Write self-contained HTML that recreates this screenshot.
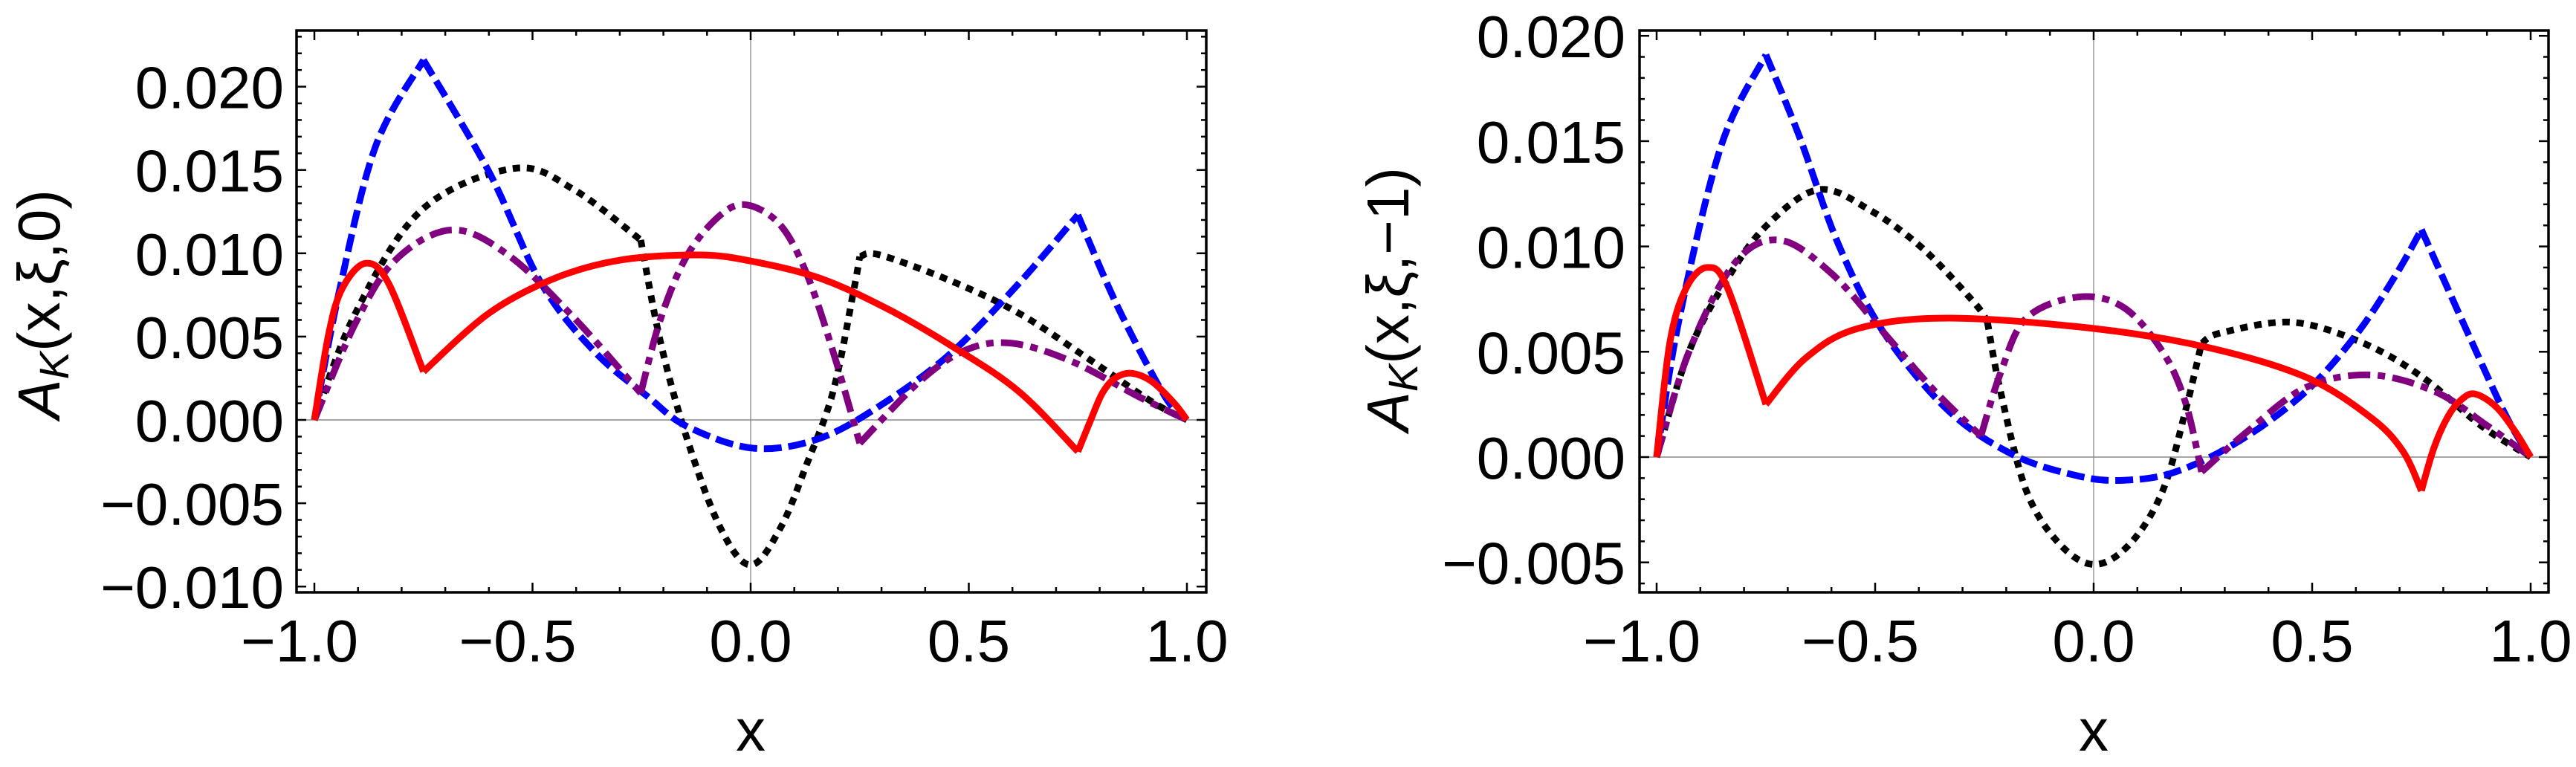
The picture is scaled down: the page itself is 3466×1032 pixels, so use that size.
<!DOCTYPE html>
<html><head><meta charset="utf-8"><style>
html,body{margin:0;padding:0;background:#fff;}
svg{display:block;}
text{font-family:"Liberation Sans",sans-serif;fill:#000;}
</style></head><body>
<svg id="s" width="3466" height="1032" viewBox="0 0 3466 1032" xmlns="http://www.w3.org/2000/svg">
<rect width="3466" height="1032" fill="#fff"/>
<g id="g"></g>
<text x="80" y="255" font-size="80" text-anchor="end" transform="rotate(-90 80 255)"><tspan font-style="italic">A</tspan><tspan font-size="56" font-style="italic" dy="12">K</tspan><tspan dy="-12">(x,ξ,0)</tspan></text>
<text x="1895" y="225" font-size="80" text-anchor="end" transform="rotate(-90 1895 225)"><tspan font-style="italic">A</tspan><tspan font-size="56" font-style="italic" dy="12">K</tspan><tspan dy="-12">(x,ξ,−1)</tspan></text>
<text x="1010" y="1010" font-size="80" text-anchor="middle">x</text>
<text x="2817" y="1010" font-size="80" text-anchor="middle">x</text>
</svg>
<script>
var NS="http://www.w3.org/2000/svg",G=document.getElementById('g');
function el(t,a,txt){var e=document.createElementNS(NS,t);for(var k in a)e.setAttribute(k,a[k]);if(txt!==undefined)e.textContent=txt;G.appendChild(e);return e;}
function cr(pts){
  var d="M"+pts[0][0].toFixed(1)+","+pts[0][1].toFixed(1);
  for(var i=0;i<pts.length-1;i++){
    var p0=pts[i>0?i-1:i],p1=pts[i],p2=pts[i+1],p3=pts[i+2<pts.length?i+2:i+1];
    var c1=[p1[0]+(p2[0]-p0[0])/6,p1[1]+(p2[1]-p0[1])/6],c2=[p2[0]-(p3[0]-p1[0])/6,p2[1]-(p3[1]-p1[1])/6];
    d+="C"+c1[0].toFixed(1)+","+c1[1].toFixed(1)+" "+c2[0].toFixed(1)+","+c2[1].toFixed(1)+" "+p2[0].toFixed(1)+","+p2[1].toFixed(1);
  }
  return d;
}
function plot(P){
  var X=function(x){return P.x0+(x+1)*P.sx;},Y=function(y){return P.y0-y*P.sy;};
  el('line',{x1:X(0),x2:X(0),y1:P.top,y2:P.bot,stroke:'#999','stroke-width':1.5});
  el('line',{x1:P.left,x2:P.right,y1:Y(0),y2:Y(0),stroke:'#888','stroke-width':1.5});
  var styles={k:{c:'#000',da:'10,9'},b:{c:'#0000ff',da:'24,9'},p:{c:'#800080',da:'30,10,10,10'},r:{c:'#ff0000',da:'none'}};
  ['k','b','p','r'].forEach(function(key){
    var segs=P.curves[key],d="";
    segs.forEach(function(seg){d+=cr(seg.map(function(q){return [X(q[0]),Y(q[1])];}));});
    el('path',{d:d,fill:'none',stroke:styles[key].c,'stroke-width':9,'stroke-dasharray':styles[key].da,'stroke-linejoin':'round'});
  });
  el('rect',{x:P.left,y:P.top,width:P.right-P.left,height:P.bot-P.top,fill:'none',stroke:'#000','stroke-width':3.5});
  for(var i=-10;i<=10;i++){var x=i/10,maj=(i%5===0),L=maj?13:7,px=X(x);
    el('line',{x1:px,x2:px,y1:P.bot,y2:P.bot-L,stroke:'#000','stroke-width':2.5});
    el('line',{x1:px,x2:px,y1:P.top,y2:P.top+L,stroke:'#000','stroke-width':2.5});
    if(maj){var s=x.toFixed(1);if(x<0)s="−"+(-x).toFixed(1);
      el('text',{x:px-(x<0?20:0),y:890,'font-size':80,'text-anchor':'middle'},s);}
  }
  for(var j=P.ymin;j<=P.ymax;j++){var y=j/1000,maj=(j%5===0),L=maj?13:7,py=Y(y);
    if(py<P.top+2||py>P.bot-2)continue;
    el('line',{x1:P.left,x2:P.left+L,y1:py,y2:py,stroke:'#000','stroke-width':2.5});
    el('line',{x1:P.right,x2:P.right-L,y1:py,y2:py,stroke:'#000','stroke-width':2.5});
    if(maj){var s=Math.abs(y).toFixed(3);if(j<0)s="−"+s;
      el('text',{x:P.lab,y:py+29,'font-size':80,'text-anchor':'end'},s);}
  }
}
plot({x0:423,sx:587,y0:565,sy:22420,left:399,right:1623,top:41,bot:797,lab:382,ymin:-10,ymax:23,
curves:{
 b:[[[-1,0],[-0.944,0.0076],[-0.86,0.0164],[-0.75,0.0216]],
    [[-0.75,0.0216],[-0.6,0.0149],[-0.48,0.0082],[-0.358,0.0041],[-0.236,0.0014],[-0.145,-0.0004],[0.007,-0.0017],[0.159,-0.0011],[0.311,0.0011],[0.463,0.0041],[0.615,0.0082],[0.75,0.0123]],
    [[0.75,0.0123],[0.843,0.0067],[0.95,0.0014],[1,0]]],
 k:[[[-1,0],[-0.906,0.0064],[-0.754,0.0126],[-0.541,0.0151],[-0.404,0.0138],[-0.252,0.0108]],
    [[-0.252,0.0108],[-0.206,0.0046],[-0.145,-0.0012],[-0.069,-0.0065],[0,-0.0087],[0.068,-0.0065],[0.128,-0.0027],[0.189,0.0017],[0.235,0.0076],[0.25,0.0098]],
    [[0.25,0.0098],[0.296,0.0099],[0.463,0.0083],[0.615,0.0064],[0.767,0.0038],[0.919,0.0011],[1,0]]],
 p:[[[-1,0],[-0.906,0.0058],[-0.814,0.0096],[-0.685,0.0114],[-0.556,0.0099],[-0.404,0.0061],[-0.252,0.0016]],
    [[-0.252,0.0016],[-0.206,0.0061],[-0.145,0.0099],[-0.069,0.0123],[-0.008,0.0129],[0.068,0.0117],[0.128,0.0088],[0.189,0.0041],[0.25,-0.0014]],
    [[0.25,-0.0014],[0.387,0.0023],[0.494,0.0042],[0.6,0.0046],[0.737,0.0035],[0.889,0.0014],[1,0]]],
 r:[[[-1,0],[-0.967,0.0052],[-0.936,0.0079],[-0.883,0.0094],[-0.83,0.0082],[-0.75,0.0029]],
    [[-0.75,0.0029],[-0.6,0.0064],[-0.449,0.0085],[-0.297,0.0096],[-0.115,0.0099],[0.007,0.0095],[0.159,0.0085],[0.311,0.0067],[0.463,0.0044],[0.615,0.0017],[0.75,-0.0019]],
    [[0.75,-0.0019],[0.778,-0.0001],[0.806,0.0016],[0.835,0.0025],[0.872,0.0028],[0.92,0.0023],[0.971,0.001],[1,0]]]
}});
plot({x0:2229,sx:588,y0:615,sy:28340,left:2206,right:3429,top:41,bot:797,lab:2187,ymin:-6,ymax:20,
curves:{
 b:[[[-1,0],[-0.948,0.0066],[-0.852,0.0148],[-0.75,0.0191]],
    [[-0.75,0.0191],[-0.673,0.0152],[-0.584,0.0101],[-0.48,0.0059],[-0.332,0.0022],[-0.183,0.0001],[-0.035,-0.0009],[0.069,-0.0011],[0.188,-0.0007],[0.336,0.0008],[0.485,0.0031],[0.604,0.0059],[0.693,0.0087],[0.75,0.0108]],
    [[0.75,0.0108],[0.856,0.0059],[0.945,0.0019],[1,0]]],
 k:[[[-1,0],[-0.926,0.005],[-0.837,0.0085],[-0.748,0.011],[-0.629,0.0127],[-0.51,0.0117],[-0.391,0.0099],[-0.272,0.0073],[-0.243,0.0064]],
    [[-0.243,0.0064],[-0.213,0.0031],[-0.154,-0.0016],[-0.079,-0.0041],[0.002,-0.0051],[0.084,-0.0041],[0.158,-0.0016],[0.21,0.0022],[0.247,0.0054]],
    [[0.247,0.0054],[0.292,0.0059],[0.455,0.0064],[0.618,0.0054],[0.752,0.0038],[0.886,0.0015],[1,0]]],
 p:[[[-1,0],[-0.926,0.005],[-0.822,0.0092],[-0.718,0.0103],[-0.599,0.0087],[-0.48,0.0059],[-0.362,0.0031],[-0.258,0.001]],
    [[-0.258,0.001],[-0.213,0.004],[-0.154,0.0066],[-0.035,0.0076],[0.069,0.0071],[0.158,0.005],[0.21,0.0026],[0.247,-0.0007]],
    [[0.247,-0.0007],[0.351,0.0012],[0.485,0.0033],[0.633,0.0039],[0.782,0.0031],[0.9,0.0015],[1,0]]],
 r:[[[-1,0],[-0.97,0.0054],[-0.933,0.008],[-0.884,0.009],[-0.837,0.008],[-0.75,0.0025]],
    [[-0.75,0.0025],[-0.659,0.0047],[-0.54,0.0061],[-0.332,0.0066],[0.002,0.0061],[0.262,0.0052],[0.485,0.0038],[0.633,0.0019],[0.707,0.0003],[0.75,-0.0016]],
    [[0.75,-0.0016],[0.778,0.0004],[0.81,0.0019],[0.84,0.0027],[0.872,0.003],[0.92,0.0024],[0.965,0.0012],[1,0]]]
}});
</script>
</body></html>
